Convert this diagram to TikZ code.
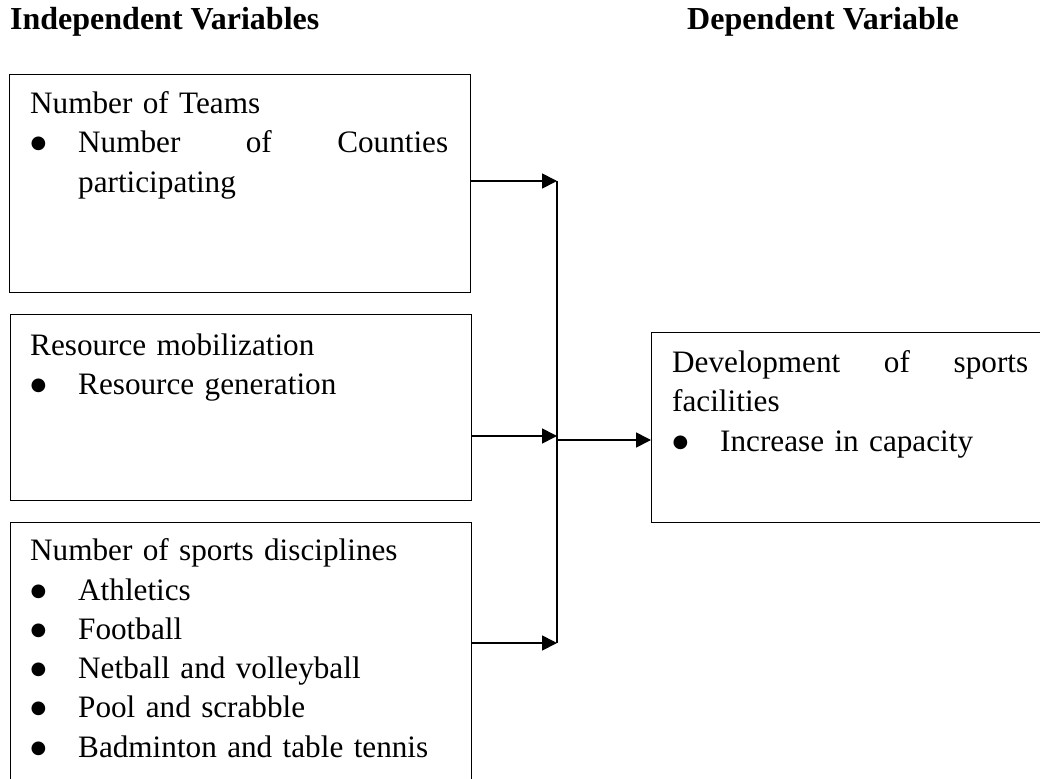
\documentclass[tikz,border=0pt]{standalone}
\usepackage{fontspec}
\setmainfont{Liberation Serif}
\newfontfamily\bulfont{DejaVu Sans}
\usetikzlibrary{arrows.meta}
\newcommand\bigbul{\raisebox{4pt}[0pt][0pt]{\bulfont\fontsize{18}{18}\selectfont ●}}
\newcommand\myitem{\par\hangindent=48pt\hangafter=0\noindent\llap{\makebox[48pt][l]{\hspace{0.5pt}\bigbul}}}
\begin{document}
\begin{tikzpicture}[x=1pt,y=-1pt,
  box/.style={draw,line width=1.3pt,rectangle,inner sep=0pt,anchor=north west},
  txt/.style={anchor=base west,inner sep=0pt,text width=#1,
    font={\fontsize{31.2}{39.3}\selectfont\tolerance=10000\hyphenpenalty=10000\exhyphenpenalty=10000}},
  head/.style={anchor=base west,inner sep=0pt,font=\fontsize{32}{39.3}\selectfont\bfseries},
  arr/.style={line width=1.7pt,-{Triangle[length=15pt,width=15pt]}},
  bus/.style={line width=1.3pt}]
\useasboundingbox (0,0) rectangle (1040,778);
\clip (0,0) rectangle (1040,778);
\fill[white] (0,0) rectangle (1040,778);
% headings
\node[head] (h1) at (10,30) {Independent Variables};
\node[head] (h2) at (687,30) {Dependent Variable};
% boxes
\node[box,minimum width=461pt,minimum height=218pt] (b1) at (9,74) {};
\node[box,minimum width=461pt,minimum height=186pt] (b2) at (10,314) {};
\node[box,minimum width=461pt,minimum height=300pt] (b3) at (10,522) {};
\node[box,minimum width=400pt,minimum height=190pt] (b4) at (651,332) {};
% texts
\node[txt=418pt] (t1) at (30,113.7) {Number of Teams\myitem Number\hfill of\hfill Counties\break participating\par};
\node[txt=418pt] (t2) at (30,355) {Resource mobilization\myitem Resource generation\par};
\node[txt=418pt] (t3) at (30,560.7) {Number of sports disciplines\myitem Athletics\myitem Football\myitem Netball and volleyball\myitem Pool and scrabble\myitem Badminton and table tennis\par};
\node[txt=356pt] (t4) at (672,372.4) {Development\hfill of\hfill sports\break facilities\myitem Increase in capacity\par};
% junction points
\coordinate (j1) at (557,181);
\coordinate (j2) at (557,436);
\coordinate (j3) at (557,643);
\coordinate (jo) at (557,440);
% connectors
\draw[bus] (j1) -- (j3);
\draw[arr] (b1.east |- j1) -- (j1);
\draw[arr] (b2.east |- j2) -- (j2);
\draw[arr] (b3.east |- j3) -- (j3);
\draw[arr] (jo) -- (b4.west |- jo);
\end{tikzpicture}
\end{document}
